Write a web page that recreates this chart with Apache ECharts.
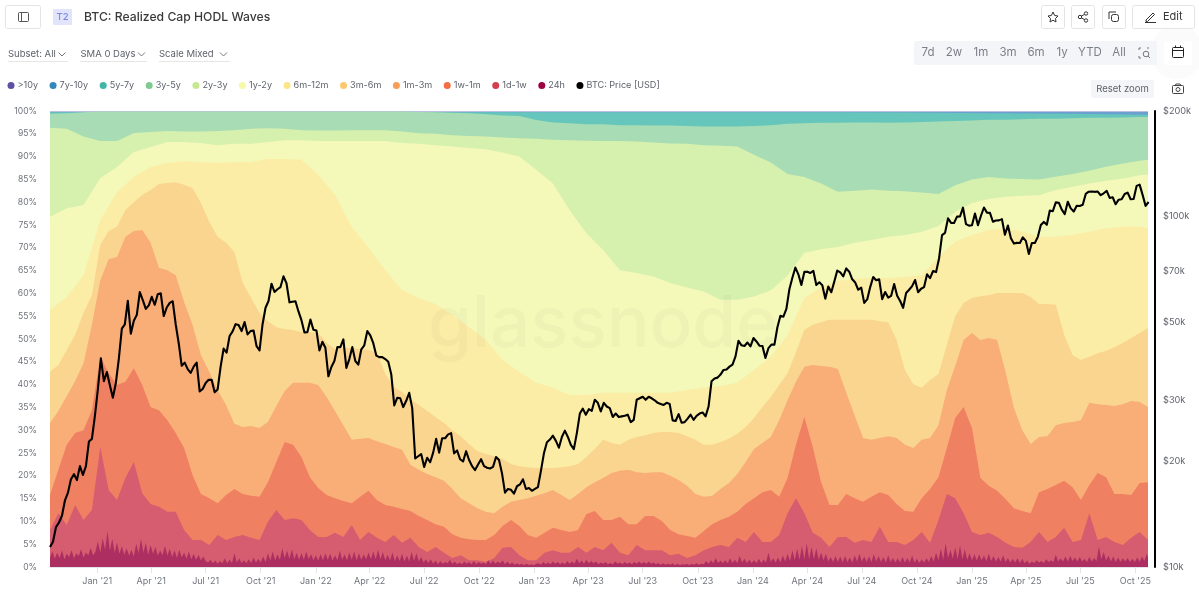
<!DOCTYPE html>
<html>
<head>
<meta charset="utf-8">
<title>BTC: Realized Cap HODL Waves</title>
<script src="https://cdn.jsdelivr.net/npm/echarts@6/dist/echarts.min.js"></script>
<style>
  html, body { margin: 0; padding: 0; background: #fff; }
  #main { width: 1199px; height: 594px; }
</style>
</head>
<body>
<div id="main"></div>
<script>
// every band is stored as the top edge of its wave in percent
var startDay = Date.UTC(2020, 9, 14);
var endDay = Date.UTC(2025, 9, 22);

var tenYearPlus = [100, 100];
var sevenToTen = [99.8, 99.8, 99.8, 99.8, 99.8, 99.8, 99.8, 99.8];
var fiveToSeven = [99.75, 99.75, 99.75, 99.75, 99.75, 99.75, 99.75, 99.75, 99.75, 99.75, 99.75, 99.65, 99.5, 99.4, 99.2];
var threeToFive = [99.4, 99.5, 99.7, 99.9, 99.9, 99.9, 99.9, 99.9, 99.9, 99.9, 99.9, 99.9, 99.9, 99.9, 99.9, 99.9, 99.9, 99.9, 99.9, 99.9, 99.9, 99.9, 99.8, 99.7, 99.6, 99.5, 99.3, 99.0, 98.9, 98.0, 97.5, 97.3, 97.1, 97.1, 96.9, 96.9, 96.8, 96.8, 96.7, 96.6, 96.6, 96.6, 96.7, 96.9, 97.2, 97.3, 97.4, 97.4, 97.5, 97.5, 97.4, 97.5, 97.6, 97.7, 97.8, 97.9, 98.1, 98.1, 98.2, 98.3, 98.3, 98.4, 98.5, 98.5, 98.6, 98.7, 98.7];
var twoToThree = [96.3, 96.1, 94.4, 93.4, 93.4, 95.2, 95.4, 95.6, 95.5, 95.5, 95.6, 95.8, 96.1, 96.2, 96.1, 95.8, 95.7, 95.7, 95.8, 95.8, 95.8, 95.5, 95.1, 95.0, 94.7, 94.5, 94.4, 94.2, 94.0, 93.9, 93.7, 93.6, 93.5, 93.4, 93.4, 93.3, 93.1, 92.9, 92.8, 92.5, 92.4, 92.2, 90.4, 88.7, 86.2, 85.5, 84.1, 82.3, 82.5, 82.8, 82.5, 82.4, 82.1, 81.8, 83.7, 85.0, 85.5, 85.2, 85.1, 85.0, 85.6, 86.2, 86.9, 87.8, 88.5, 89.1, 89.5];
var oneToTwo = [76.8, 78.7, 79.4, 85.3, 87.7, 91.0, 92.1, 93.2, 93.2, 93.0, 92.5, 92.8, 92.8, 93.2, 93.6, 93.6, 93.4, 93.4, 93.4, 93.4, 93.4, 93.0, 92.8, 92.5, 92.2, 91.9, 91.6, 90.9, 90.0, 87.1, 84.1, 78.3, 73.2, 69.5, 65.1, 64.5, 63.7, 62.3, 61.3, 60.4, 58.6, 58.6, 59.3, 60.7, 63.9, 68.9, 69.7, 70.2, 71.1, 71.7, 72.4, 72.8, 73.5, 74.8, 77.9, 79.8, 80.7, 81.2, 81.4, 81.5, 82.7, 83.4, 84.1, 84.7, 85.2, 85.9, 86.2];
var sixToTwelve = [56.4, 59.2, 64.0, 76.1, 82.2, 85.5, 87.7, 88.6, 89.0, 88.8, 88.6, 88.8, 88.8, 89.5, 89.5, 89.3, 86.0, 81.6, 74.6, 70.0, 65.1, 60.7, 59.0, 57.7, 55.3, 52.6, 49.8, 45.4, 42.8, 40.4, 39.3, 37.7, 37.7, 38.2, 38.2, 38.2, 38.2, 38.2, 38.8, 39.3, 39.7, 40.4, 43.2, 46.1, 50.9, 59.0, 61.4, 62.7, 63.2, 63.4, 63.4, 63.6, 64.0, 68.0, 71.3, 72.8, 73.9, 74.3, 73.5, 72.4, 72.4, 72.8, 73.5, 74.3, 74.6, 74.6, 73.9];
var threeToSix = [42.8, 44.3, 47.6, 50.9, 55.7, 59.6, 70.6, 73.7, 74.6, 78.3, 80.0, 81.6, 82.7, 84.0, 84.2, 84.4, 83.8, 83.1, 79.8, 75.7, 72.4, 71.1, 69.1, 62.3, 59.0, 55.7, 53.9, 52.6, 52.2, 52.0, 51.5, 51.5, 51.3, 49.1, 47.8, 48.0, 48.0, 47.8, 47.6, 47.1, 42.3, 39.5, 38.4, 36.8, 35.5, 34.2, 32.9, 31.6, 30.0, 28.7, 27.0, 25.4, 24.8, 24.3, 23.7, 22.6, 22.1, 21.9, 21.7, 21.7, 21.7, 21.9, 22.1, 22.6, 24.1, 25.9, 27.9, 27.2, 26.8, 27.9, 28.5, 28.9, 29.4, 29.6, 29.6, 29.4, 28.7, 27.9, 26.8, 26.8, 27.4, 28.1, 29.2, 30.7, 32.7, 35.1, 37.3, 39.9, 42.5, 47.1, 52.0, 53.1, 53.7, 54.2, 54.2, 54.2, 54.2, 54.2, 54.2, 53.9, 53.7, 49.8, 43.2, 40.1, 39.3, 41.0, 42.3, 48.7, 55.0, 57.9, 59.0, 59.4, 59.6, 60.1, 60.1, 60.1, 60.1, 59.2, 57.7, 57.7, 57.5, 50.9, 46.5, 45.4, 46.1, 46.9, 47.4, 48.2, 49.1, 50.2, 51.3, 52.4];
var oneToThree = [31.6, 34.2, 37.5, 40.8, 44.7, 53.1, 62.9, 67.5, 68.0, 72.4, 73.7, 73.9, 71.1, 65.6, 65.1, 64.0, 58.1, 53.1, 46.5, 42.8, 38.8, 35.5, 31.4, 30.7, 30.9, 30.5, 31.8, 35.3, 38.6, 40.4, 40.4, 40.4, 39.9, 37.3, 34.2, 31.1, 27.9, 28.1, 28.3, 27.6, 27.0, 26.3, 25.7, 22.4, 21.3, 20.4, 19.7, 18.9, 17.1, 15.1, 14.0, 12.9, 12.1, 11.8, 13.2, 14.3, 14.7, 15.1, 15.6, 16.2, 16.9, 15.8, 14.7, 16.0, 17.5, 18.6, 19.5, 20.6, 21.1, 21.3, 20.8, 20.6, 20.8, 20.8, 20.0, 19.1, 17.8, 16.0, 15.4, 15.6, 17.1, 18.4, 20.4, 23.0, 25.9, 27.2, 28.5, 32.2, 36.6, 40.6, 43.9, 44.3, 44.1, 43.9, 43.4, 38.2, 33.3, 28.3, 27.9, 28.3, 28.7, 28.3, 26.8, 26.1, 27.9, 28.3, 31.1, 38.8, 44.1, 49.8, 51.3, 49.8, 50.2, 49.8, 42.8, 34.9, 30.0, 27.0, 28.5, 28.7, 31.1, 31.6, 31.8, 32.2, 36.0, 35.7, 35.5, 35.3, 35.7, 36.4, 36.2, 35.1];
var oneWeekToMonth = [15.8, 21.3, 26.8, 29.4, 30.0, 34.4, 46.1, 42.5, 39.9, 40.6, 43.6, 39.9, 35.1, 34.4, 32.2, 29.4, 26.1, 20.2, 16.0, 15.1, 14.0, 15.8, 17.1, 16.0, 15.6, 15.4, 18.6, 23.0, 27.4, 26.8, 24.1, 19.7, 17.3, 15.8, 15.1, 14.5, 14.0, 15.4, 16.7, 14.7, 13.6, 13.2, 12.7, 12.3, 11.2, 10.3, 9.4, 8.8, 7.2, 6.4, 6.1, 5.9, 5.9, 7.0, 9.0, 10.3, 9.0, 7.0, 6.4, 7.5, 8.6, 8.1, 7.7, 8.1, 11.6, 12.3, 10.3, 10.3, 11.0, 9.4, 9.4, 11.2, 11.2, 10.1, 8.1, 7.2, 6.8, 6.4, 7.9, 9.4, 10.3, 11.0, 12.1, 13.8, 15.1, 16.4, 16.9, 15.4, 19.5, 26.8, 32.9, 26.3, 18.6, 13.6, 13.6, 16.0, 15.1, 14.3, 15.4, 16.4, 15.8, 13.8, 12.3, 12.1, 15.1, 17.1, 19.7, 26.1, 32.7, 35.1, 30.5, 19.5, 17.8, 16.7, 14.9, 12.9, 12.3, 11.8, 16.4, 17.1, 18.0, 18.9, 17.5, 14.7, 18.0, 20.6, 19.7, 16.0, 16.0, 15.8, 18.4, 18.6];
var oneDayToWeek = [8.1, 11.8, 9.2, 13.6, 10.3, 12.5, 26.3, 16.9, 14.7, 19.5, 23.0, 16.2, 13.8, 13.2, 12.1, 12.1, 8.1, 5.9, 5.9, 4.8, 7.0, 5.9, 6.6, 7.0, 6.4, 5.9, 9.9, 12.5, 10.3, 10.7, 10.3, 8.1, 6.6, 6.6, 7.5, 6.6, 9.2, 5.9, 7.7, 6.4, 5.5, 7.0, 5.3, 6.4, 4.4, 3.3, 4.4, 3.1, 2.0, 2.6, 1.5, 1.5, 1.1, 2.0, 4.2, 4.4, 2.6, 1.5, 1.5, 3.1, 3.7, 3.1, 3.1, 4.4, 3.1, 4.4, 3.7, 5.3, 3.1, 2.6, 4.8, 3.7, 3.7, 3.7, 2.6, 2.9, 2.0, 2.6, 3.7, 4.4, 4.8, 4.4, 6.4, 5.5, 7.7, 5.5, 5.5, 7.0, 11.8, 15.1, 11.8, 7.5, 6.4, 4.4, 6.6, 6.6, 5.3, 5.9, 5.5, 8.8, 5.5, 5.5, 4.8, 5.9, 7.7, 5.3, 10.3, 16.0, 15.1, 11.8, 7.7, 7.0, 7.5, 6.6, 5.3, 4.4, 4.2, 5.5, 7.7, 5.5, 6.6, 8.6, 5.5, 5.9, 11.8, 5.9, 6.6, 5.5, 4.8, 6.4, 7.7, 5.9];
// 24h wave, one reading every 4 days
var oneDay = [2.0, 3.4, 1.8, 3.1, 2.0, 3.6, 1.7, 2.9, 2.2, 3.7, 1.9, 3.0, 2.4, 3.9, 2.1, 3.2, 2.6, 4.2, 2.5, 3.4,
  5.6, 3.2, 6.3, 3.8, 7.9, 3.6, 6.2, 3.1, 5.4, 2.9, 4.6, 2.7, 4.1, 2.5, 3.8, 2.3, 5.1, 3.0, 6.2, 3.1, 5.3, 2.7, 4.8,
  2.9, 4.4, 2.5, 3.6, 2.6, 4.6, 2.5, 4.0, 2.2, 3.7, 2.0, 3.8, 2.1, 3.2, 1.8, 3.4, 1.7, 2.9, 1.6, 2.7, 1.5, 2.3, 1.3,
  1.0, 1.6, 0.8, 1.4, 0.7, 1.3, 0.8, 1.9, 0.8, 1.6, 0.9, 3.0, 1.0, 1.9, 0.9, 1.5, 0.8, 1.7, 0.9, 2.1, 1.0, 1.8, 1.0,
  2.3, 1.1, 3.0, 1.4, 3.4, 1.5, 2.8, 1.6, 4.1, 1.9, 3.6, 1.8, 3.9, 1.7, 3.1, 1.6, 3.0, 1.6, 3.4, 1.7, 2.8, 1.5, 2.6,
  1.4, 2.8, 1.5, 3.0, 1.6, 2.9, 1.4, 2.6, 1.5, 3.6, 1.6, 2.8, 1.5, 3.2, 1.6, 3.4, 1.5, 3.0, 1.6, 2.8, 1.7, 3.2, 1.7,
  3.4, 1.7, 3.8, 1.7, 3.3, 1.5, 2.7, 1.4, 3.2, 1.3, 2.6, 1.3, 2.9, 1.2, 2.5, 1.2, 3.3, 1.3, 3.0, 1.2, 2.2, 1.0, 1.7,
  0.9, 1.7, 0.7, 1.4, 0.6, 1.3, 0.7, 1.1, 0.8, 1.6, 0.7, 1.2, 0.6, 1.0, 0.6, 1.2, 0.7, 1.1, 0.6, 1.3, 0.6, 1.1, 0.7,
  1.0, 0.6, 1.5, 0.7, 1.4, 0.7, 1.2, 0.8, 1.5, 0.6, 1.2, 0.6, 1.0, 0.5, 0.8, 0.5, 0.7, 0.4, 0.7, 0.4, 0.6, 0.4, 0.7,
  0.8, 0.5, 1.1, 0.6, 1.0, 0.6, 1.2, 0.7, 1.1, 0.6, 1.0, 0.6, 1.3, 0.7, 1.2, 0.7, 1.8, 0.8, 1.4, 0.7, 1.6, 0.8, 1.3,
  0.8, 1.2, 0.6, 1.0, 0.7, 1.1, 0.6, 0.9, 0.6, 1.2, 0.7, 1.0, 0.6, 1.1, 0.7, 1.0, 0.6, 1.1, 0.7, 1.2, 0.7, 1.1, 0.7,
  1.2, 0.7, 1.0, 0.6, 0.9, 0.5, 0.8, 0.5, 0.7, 0.5, 0.8, 0.4, 0.7, 0.4, 0.6, 0.5, 0.7, 0.4, 0.7, 0.5, 0.8, 0.5, 0.7,
  0.6, 1.3, 0.7, 1.5, 0.8, 1.9, 0.9, 1.4, 0.8, 1.5, 0.8, 1.9, 0.9, 1.6, 0.9, 2.4, 1.0, 1.8, 0.9, 1.6, 0.9, 1.5, 0.9,
  1.8, 0.9, 1.6, 1.0, 3.1, 1.1, 1.9, 1.0, 2.1, 1.0, 2.5, 1.2, 2.9, 1.3, 3.6, 1.5, 4.0, 1.6, 4.6, 1.6, 5.2, 1.7, 4.4,
  1.7, 4.1, 1.6, 3.2, 1.5, 2.9, 1.2, 2.2, 1.1, 2.4, 1.1, 2.3, 1.0, 2.4, 1.1, 2.1, 1.0, 2.6, 1.2, 2.9, 1.2, 2.3, 1.1,
  2.3, 1.1, 2.8, 1.2, 2.4, 1.1, 2.2, 1.0, 2.6, 1.1, 2.0, 1.0, 1.9, 1.0, 2.2, 1.0, 2.0, 1.0, 2.5, 1.0, 1.8, 0.9, 1.7,
  1.0, 1.9, 1.1, 2.4, 1.2, 3.1, 1.5, 4.0, 1.6, 5.2, 2.0, 3.8, 1.8, 4.3, 1.7, 4.7, 1.7, 3.9, 1.6, 3.0, 1.5, 2.8, 1.4,
  2.8, 1.5, 2.5, 1.3, 2.9, 1.3, 2.4, 1.2, 2.2, 1.2, 2.6, 1.1, 2.0, 1.0, 1.8, 1.0, 2.0, 0.9, 1.8, 0.8, 1.4, 0.7, 1.2,
  0.9, 1.5, 1.0, 1.3, 0.9, 1.7, 1.1, 1.5, 1.1, 2.7, 1.2, 1.9, 1.2, 2.3, 1.2, 2.4, 1.3, 2.1, 1.2, 2.2, 1.2, 1.8, 1.1,
  2.2, 1.2, 2.0, 1.3, 4.5, 1.7, 3.3, 1.4, 2.5, 1.2, 2.3, 1.1, 2.1, 1.1, 1.9, 1.2, 2.0, 1.1, 1.8, 1.1, 2.1, 1.1, 2.3,
  1.3, 2.9, 1.4, 2.6, 1.5, 2.5, 1.4];

// BTC price in $k, one reading every 5 days from the left edge
var btcPrice = [11.4, 11.8, 13.0, 13.4, 14.0, 15.5, 16.3, 17.8, 18.4, 17.7, 19.4, 18.3, 19.4, 22.8, 23.2, 27.0,
  32.2, 39.4, 33.9, 36.0, 33.0, 30.4, 33.5, 39.3, 47.9, 49.2, 57.5, 46.3, 50.4, 52.4, 60.9, 57.7, 54.5, 55.8, 59.0, 56.0, 60.0, 60.4, 52.0, 55.0, 56.7, 57.3, 49.2, 43.5, 37.5, 38.3, 36.7, 35.8, 37.3, 38.3, 31.7, 32.2, 33.5, 34.2, 34.2, 31.5, 32.1, 37.3, 42.0, 40.9, 45.6, 47.0, 49.3, 49.0, 47.1, 50.0, 46.1, 47.1, 47.3, 42.7, 41.5, 49.2, 54.9, 57.4, 64.3, 60.9, 62.0, 62.9, 67.5, 64.5, 56.9, 57.1, 57.3, 53.6, 50.6, 46.7, 46.8, 50.8, 47.5,
  47.3, 41.5, 43.9, 42.2, 35.0, 37.2, 38.7, 42.4, 42.4, 44.6, 37.0, 39.2, 42.4, 38.7, 37.8, 41.8, 42.9, 47.1, 45.8, 43.5, 40.1, 39.7, 39.7, 39.2, 38.5, 35.5, 28.9, 30.4, 30.3, 28.6, 29.8, 31.4, 28.4, 20.4, 20.7, 21.0, 19.3, 20.5, 19.9, 21.2, 23.2, 21.2, 23.3, 23.3, 23.9, 24.1, 21.1, 21.5, 20.3, 20.0, 21.4, 20.2, 19.4, 18.9, 19.6, 20.3, 19.4, 19.2, 19.1, 19.3, 20.6, 20.2, 18.5, 16.3, 16.7, 16.6, 16.2, 17.0, 17.2, 17.8, 16.7, 16.8, 16.5,
  16.7, 16.9, 18.8, 21.1, 22.7, 23.1, 23.7, 22.9, 21.9, 23.5, 24.5, 23.5, 22.3, 21.7, 24.1, 27.4, 28.3, 27.2, 28.2, 27.9, 30.0, 29.4, 27.8, 29.4, 28.7, 28.4, 26.8, 27.4, 26.8, 26.9, 27.0, 27.2, 25.9, 26.3, 30.0, 30.3, 30.6, 30.0, 30.6, 30.3, 29.9, 29.4, 29.2, 29.0, 29.4, 29.2, 26.2, 26.1, 27.3, 25.8, 25.9, 26.5, 27.2, 26.3, 27.0, 27.4, 27.6, 26.9, 28.7, 33.9, 34.5, 34.7, 35.4, 36.5, 36.6, 37.3, 37.8, 39.9, 44.2, 42.9, 42.7, 43.7, 42.6,
  45.0, 44.0, 42.8, 42.7, 39.5, 42.1, 43.1, 43.1, 48.3, 52.1, 51.8, 54.5, 62.0, 66.9, 71.5, 68.4, 63.8, 69.5, 69.6, 69.0, 70.0, 63.8, 64.9, 63.7, 58.3, 63.1, 60.8, 65.2, 70.1, 69.3, 67.5, 71.1, 69.6, 66.2, 64.8, 61.8, 62.7, 56.7, 58.0, 62.9, 67.2, 65.8, 66.2, 58.1, 60.9, 58.7, 59.4, 64.2, 59.4, 57.4, 54.9, 60.5, 61.8, 63.3, 65.9, 60.8, 62.2, 62.9, 68.4, 66.7, 69.9, 69.4, 75.9, 88.5, 89.8, 98.9, 95.9, 95.8, 99.9, 100.0, 106.0, 95.1, 94.2,
  94.4, 102.0, 94.5, 100.5, 106.1, 102.6, 102.4, 96.6, 97.4, 97.5, 98.3, 88.7, 94.2, 86.7, 83.7, 84.1, 84.0, 87.2, 85.2, 78.2, 84.0, 84.0, 87.5, 94.6, 96.5, 94.7, 104.0, 103.5, 109.7, 109.5, 104.6, 101.6, 110.2, 105.5, 103.3, 107.3, 107.1, 108.0, 116.0, 117.7, 117.9, 117.6, 117.8, 115.0, 116.5, 118.3, 113.0, 113.5, 108.4, 111.7, 112.0, 115.9, 117.0, 112.0, 112.2, 122.3, 123.3, 115.3, 107.2, 110.0];

var bandNames = ['>10y', '7y-10y', '5y-7y', '3y-5y', '2y-3y', '1y-2y', '6m-12m', '3m-6m', '1m-3m', '1w-1m', '1d-1w', '24h'];
var bandValues = [tenYearPlus, sevenToTen, fiveToSeven, threeToFive, twoToThree, oneToTwo, sixToTwelve, threeToSix, oneToThree, oneWeekToMonth, oneDayToWeek, oneDay];
var bandSteps = [1834, 262, 131, 28, 28, 28, 28, 14, 14, 14, 14, 4];
var bandColors = ['#b9bfe2', '#6a9fd0', '#66c6bc', '#a8dcb4', '#d6f0ae', '#f4f8b9', '#fbeda5', '#f9d58f', '#f9ad77', '#f08062', '#d65c70', '#ad2f62'];
var legendColors = ['#5e4fa2', '#3288bd', '#41b6a8', '#80c98f', '#c6e88f', '#f5f9a9', '#fce588', '#fdc76f', '#fb9e55', '#f46d43', '#d53e4f', '#9e0142'];

var priceTicks = [10000, 20000, 30000, 50000, 70000, 100000, 200000];
var monthNames = ['Jan', 'Feb', 'Mar', 'Apr', 'May', 'Jun', 'Jul', 'Aug', 'Sep', 'Oct', 'Nov', 'Dec'];
var timeTicks = [];
for (var y = 2021; y <= 2025; y++) {
    for (var m = 0; m < 12; m += 3) {
        timeTicks.push(Date.UTC(y, m, 1));
    }
}

var rangeLabels = ['7d', '2w', '1m', '3m', '6m', '1y', 'YTD', 'All'];
var rangeLabelX = [928, 954, 981, 1008, 1036, 1062, 1090, 1119];
var fontName = 'Inter, "Noto Sans", sans-serif';

function toPairs(values, stepDays) {
    var out = [];
    for (var i = 0; i < values.length; i++) {
        out.push([startDay + i * stepDays * 86400000, values[i]]);
    }
    return out;
}

var series = [];
for (var b = 0; b < bandNames.length; b++) {
    series.push({
        name: bandNames[b],
        type: 'line',
        data: toPairs(bandValues[b], bandSteps[b]),
        showSymbol: false,
        symbol: 'none',
        clip: true,
        itemStyle: { color: bandColors[b] },
        lineStyle: { width: 0 },
        areaStyle: { color: bandColors[b], opacity: 1 },
        silent: true
    });
}
series.push({
    name: 'BTC: Price [USD]',
    type: 'line',
    yAxisIndex: 1,
    data: toPairs(btcPrice.map(function (v) { return v * 1000; }), 5),
    showSymbol: false,
    symbol: 'none',
    itemStyle: { color: '#000' },
    lineStyle: { color: '#000', width: 2.1, join: 'round' },
    z: 5,
    silent: true
});

var legendData = bandNames.map(function (n, i) {
    return { name: n, icon: 'circle', itemStyle: { color: legendColors[i] } };
});
legendData.push({ name: 'BTC: Price [USD]', icon: 'circle', itemStyle: { color: '#000' } });

// header of the page, drawn as graphics so it stays in the one canvas
function box(x, y, w, h, fill, stroke, r) {
    return { type: 'rect', shape: { x: x, y: y, width: w, height: h, r: r || 2 }, style: { fill: fill, stroke: stroke || null, lineWidth: 1 } };
}
function label(x, y, text, size, color, align, weight) {
    return { type: 'text', x: x, y: y, style: { text: text, font: (weight || 400) + ' ' + size + 'px ' + fontName, fill: color, align: align || 'left', verticalAlign: 'middle' } };
}
function stroke(points, color) {
    return { type: 'polyline', shape: { points: points }, style: { fill: null, stroke: color || '#333', lineWidth: 1 } };
}
function ring(cx, cy, r, color) {
    return { type: 'circle', shape: { cx: cx, cy: cy, r: r }, style: { fill: '#fff', stroke: color || '#333', lineWidth: 1 } };
}
function chevron(x, y) {
    return stroke([[x, y], [x + 3.5, y + 3.5], [x + 7, y]], '#777');
}
function rule(x1, x2) {
    return { type: 'line', shape: { x1: x1, y1: 61.5, x2: x2, y2: 61.5 }, style: { stroke: '#e6e6e6' } };
}

var graphics = [
    { type: 'circle', shape: { cx: 1177, cy: 52, r: 27 }, style: { fill: '#fbfbfb' } },
    box(5.5, 5.5, 35, 23, '#fff', '#e4e4e4'),
    box(18.5, 12.5, 10, 9, '#fff', '#555', 1),
    stroke([[21.5, 12.5], [21.5, 21.5]], '#555'),
    box(53, 9, 19, 16, '#e1e5fb', null, 1),
    label(62.5, 17.5, 'T2', 9.5, '#7d89e3', 'center', 500),
    label(84, 17, 'BTC: Realized Cap HODL Waves', 12.2, '#3a3a3a', 'left', 500),

    label(8, 54, 'Subset: All', 9.5, '#5f636b'),
    chevron(58.5, 52.5),
    rule(8, 68),
    label(80.5, 54, 'SMA 0 Days', 9.5, '#5f636b'),
    chevron(138, 52.5),
    rule(80, 147),
    label(159, 54, 'Scale Mixed', 9.5, '#5f636b'),
    chevron(220, 52.5),
    rule(159, 230),

    box(1041.5, 5.5, 23, 23, '#fff', '#e4e4e4'),
    stroke([[1053, 12], [1054.6, 15.5], [1058, 16], [1055.5, 18.5], [1056, 22], [1053, 20.2], [1050, 22], [1050.5, 18.5], [1048, 16], [1051.4, 15.5], [1053, 12]]),
    box(1071.5, 5.5, 23, 23, '#fff', '#e4e4e4'),
    stroke([[1086, 13.5], [1080, 17], [1086, 20.5]]),
    ring(1086, 13.5, 1.7), ring(1080, 17, 1.7), ring(1086, 20.5, 1.7),
    box(1102.5, 5.5, 23, 23, '#fff', '#e4e4e4'),
    stroke([[1109, 19], [1109, 12], [1116, 12]]),
    box(1111.5, 14.5, 7, 7, '#fff', '#333', 0),
    box(1132.5, 5.5, 62, 23, '#fff', '#e4e4e4'),
    stroke([[1146, 20], [1153, 13], [1154.5, 14.5], [1147.5, 21.5], [1146, 21.5], [1146, 20]]),
    stroke([[1145, 22.5], [1156, 22.5]]),
    label(1163, 17, 'Edit', 11, '#3a3a3a'),

    box(914, 41, 243, 24, '#f4f5f9', null, 2),
    stroke([[1139, 50], [1139, 48], [1141, 48]], '#777'),
    stroke([[1139, 56], [1139, 58], [1141, 58]], '#777'),
    stroke([[1147, 48], [1149, 48]], '#777'),
    { type: 'circle', shape: { cx: 1146, cy: 54, r: 2.8 }, style: { fill: null, stroke: '#777', lineWidth: 1 } },
    stroke([[1148, 56], [1150, 58]], '#777'),
    box(1164, 41, 28, 24, '#fff', null, 3),
    box(1172.5, 47.5, 11, 10, '#fff', '#222', 1),
    stroke([[1172.5, 50.5], [1183.5, 50.5]], '#222'),
    stroke([[1175.5, 45.5], [1175.5, 47.5]], '#222'),
    stroke([[1180.5, 45.5], [1180.5, 47.5]], '#222'),

    box(1091, 80, 63, 18, '#f4f5f9', null, 2),
    label(1122.5, 89, 'Reset zoom', 9.5, '#5f636b', 'center'),
    box(1172.5, 85.5, 11, 8, '#fff', '#444', 1),
    stroke([[1175, 85.5], [1176, 84], [1180, 84], [1181, 85.5]], '#444'),
    ring(1178, 89.5, 2, '#444'),

    { type: 'text', x: 603, y: 326, z: 50, style: { text: 'glassnode', font: '500 71px ' + fontName, fill: 'rgba(60,60,60,0.03)', align: 'center', verticalAlign: 'middle' } }
];
rangeLabels.forEach(function (t, i) {
    graphics.push(label(rangeLabelX[i], 53, t, 11.5, '#7b7f88', 'center'));
});

var myChart = echarts.init(document.getElementById('main'), null, { renderer: 'canvas' });
myChart.setOption({
    animation: false,
    backgroundColor: '#fff',
    textStyle: { fontFamily: fontName },
    grid: { left: 50, right: 51, top: 111, bottom: 27 },
    legend: {
        left: 7.5,
        top: 81,
        padding: 0,
        itemWidth: 7,
        itemHeight: 7,
        itemGap: 11.5,
        selectedMode: false,
        data: legendData,
        textStyle: { fontSize: 9.1, color: '#5f636b', padding: [0, 0, 0, -2] }
    },
    xAxis: {
        type: 'value',
        min: startDay,
        max: endDay,
        axisLine: { onZero: false, lineStyle: { color: '#e3e4e8' } },
        axisTick: { show: true, length: 6, lineStyle: { color: '#e3e4e8' }, customValues: timeTicks },
        splitLine: { show: false },
        axisLabel: {
            customValues: timeTicks,
            margin: 10,
            fontSize: 9,
            color: '#6f737b',
            hideOverlap: false,
            formatter: function (v) {
                var d = new Date(v);
                return monthNames[d.getUTCMonth()] + " '" + String(d.getUTCFullYear()).slice(2);
            }
        }
    },
    yAxis: [{
        type: 'value',
        min: 0,
        max: 100,
        interval: 5,
        axisLine: { show: false },
        axisTick: { show: false },
        splitLine: { show: false },
        axisLabel: { margin: 13, fontSize: 8.6, color: '#6f737b', formatter: '{value}%' }
    }, {
        type: 'log',
        logBase: 10,
        min: 10000,
        max: 200000,
        position: 'right',
        offset: 7,
        axisLine: { show: true, onZero: false, lineStyle: { color: '#000', width: 2 } },
        axisTick: { show: false },
        splitLine: { show: false },
        minorTick: { show: false },
        axisLabel: {
            customValues: priceTicks,
            margin: 8,
            fontSize: 9.2,
            color: '#5f636b',
            formatter: function (v) { return '$' + Math.round(v / 1000) + 'k'; }
        }
    }],
    series: series,
    graphic: { elements: graphics }
});
</script>
</body>
</html>
